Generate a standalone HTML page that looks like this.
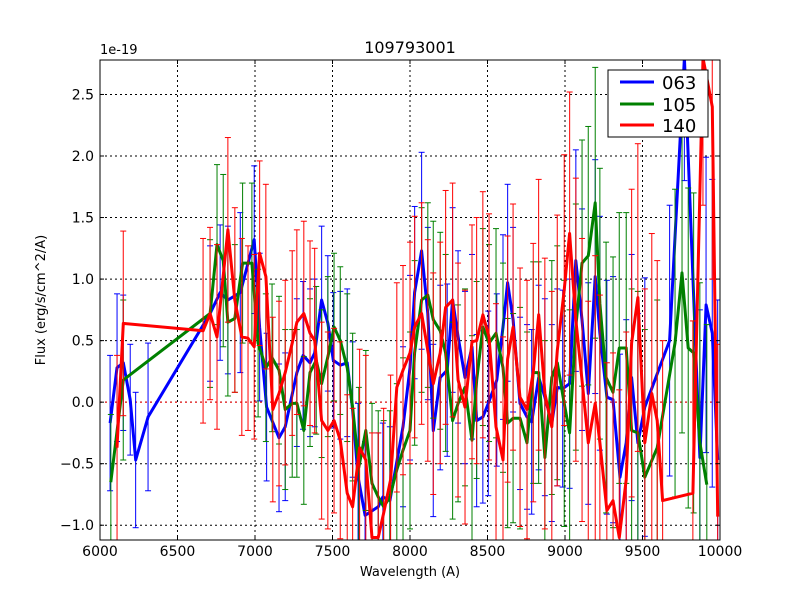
<!DOCTYPE html>
<html><head><meta charset="utf-8"><style>
html,body{margin:0;padding:0;background:#fff;overflow:hidden;width:800px;height:600px;}
svg{display:block;}
svg text{font-family:"DejaVu Sans","Liberation Sans",sans-serif;}
</style></head><body>
<svg id="chart" width="800" height="600" xmlns="http://www.w3.org/2000/svg">
<rect x="0" y="0" width="800" height="600" fill="#fff"/>
<defs><clipPath id="clip"><rect x="100" y="60" width="620" height="480"/></clipPath></defs>
<g id="grid"></g>
<g id="plot" clip-path="url(#clip)"></g>
<rect x="100" y="60" width="620" height="480" fill="none" stroke="#000" stroke-width="1"/>
<g id="ticks"></g>
<text x="410" y="53" font-size="16" text-anchor="middle">109793001</text>
<text x="100" y="54" font-size="13">1e-19</text>
<text x="410" y="576" font-size="13" text-anchor="middle">Wavelength (A)</text>
<text x="45" y="300" font-size="13" text-anchor="middle" transform="rotate(-90 45 300)">Flux (erg/s/cm^2/A)</text>
<g>
<rect x="608" y="70" width="100" height="67" fill="#fff" stroke="#000" stroke-width="1"/>
<line x1="620" y1="82" x2="654" y2="82" stroke="#0000ff" stroke-width="3"/>
<text x="662" y="89" font-size="18">063</text>
<line x1="620" y1="104" x2="654" y2="104" stroke="#008000" stroke-width="3"/>
<text x="662" y="111" font-size="18">105</text>
<line x1="620" y1="125" x2="654" y2="125" stroke="#ff0000" stroke-width="3"/>
<text x="662" y="132" font-size="18">140</text>
</g>
</svg>
<script>
const xTicks=[6000,6500,7000,7500,8000,8500,9000,9500,10000];
const yTicks=[-1.0,-0.5,0.0,0.5,1.0,1.5,2.0,2.5];
const yTickLabels=["−1.0","−0.5","0.0","0.5","1.0","1.5","2.0","2.5"];
const wl063=[6065,6110,6150,6195,6230,6310,6710,6775,6825,6905,6995,7030,7075,7155,7195,7270,7310,7355,7385,7430,7470,7505,7550,7595,7630,7665,7710,7795,7825,7870,7955,8000,8030,8075,8115,8150,8195,8240,8275,8310,8355,8400,8430,8470,8505,8560,8600,8630,8665,8710,8755,8785,8830,8870,8915,8950,8985,9030,9070,9110,9150,9195,9225,9270,9310,9355,9395,9430,9470,9515,9675,9770,9870,9910,9950,9985];
const flux063=[-0.17,0.28,0.32,0.02,-0.47,-0.12,0.72,0.89,0.83,0.89,1.32,0.61,-0.04,-0.29,-0.2,0.24,0.38,0.32,0.4,0.83,0.64,0.34,0.3,0.32,-0.06,-0.61,-0.92,-0.85,-0.77,-0.8,-0.2,0.28,0.89,1.23,0.72,-0.23,0.2,0.26,0.83,0.53,0.2,0.45,-0.15,-0.12,-0.01,0.18,0.61,0.97,0.67,-0.01,-0.12,-0.16,0.2,0.04,-0.17,0.12,0.11,0.15,1.15,0.67,0.07,1.02,0.56,0.04,0.02,-0.61,-0.33,0.2,-0.33,-0.04,0.5,3.0,-0.45,0.79,0.56,-0.47];
const err063=[0.55,0.6,0.55,0.45,0.55,0.6,0.55,0.55,0.6,0.65,0.6,0.6,0.6,0.6,0.6,0.6,0.6,0.6,0.6,0.6,0.55,0.55,0.6,0.6,0.55,0.6,0.6,0.6,0.6,0.6,0.65,0.75,0.7,0.8,0.7,0.7,0.75,0.7,0.75,0.7,0.7,0.75,0.7,0.7,0.75,0.7,0.75,0.8,0.75,0.7,0.75,0.75,0.75,0.8,0.8,0.8,0.8,0.85,0.9,0.9,0.9,0.95,0.95,0.95,1.0,1.0,1.0,1.0,1.05,1.05,1.1,1.2,1.2,1.2,1.25,1.3];
const wl105=[6070,6150,6710,6755,6795,6825,6870,6920,6980,7020,7070,7110,7155,7195,7240,7270,7315,7355,7395,7430,7470,7510,7550,7595,7630,7670,7715,7755,7795,7830,7870,7915,7955,8000,8030,8075,8115,8150,8195,8230,8275,8310,8355,8400,8430,8470,8510,8555,8600,8630,8665,8710,8755,8795,8830,8870,8915,8950,8995,9030,9070,9110,9150,9195,9225,9265,9310,9350,9395,9430,9470,9515,9595,9710,9755,9795,9830,9870,9915];
const flux105=[-0.65,0.18,0.72,1.28,1.15,0.65,0.68,1.13,1.13,0.48,0.28,0.36,0.26,-0.06,-0.01,-0.01,-0.23,0.24,0.34,0.15,0.37,0.61,0.5,0.28,-0.04,-0.53,-0.23,-0.66,-0.77,-0.85,-0.77,-0.55,-0.39,-0.23,0.4,0.83,0.87,0.67,0.58,0.4,-0.15,-0.01,0.12,-0.31,0.18,0.61,0.48,0.56,0.28,-0.17,-0.13,-0.13,-0.33,0.24,0.24,-0.45,0.2,0.32,-0.01,-0.25,0.61,1.13,1.19,1.62,0.8,0.2,0.08,0.44,0.44,-0.23,-0.25,-0.61,-0.37,0.48,1.05,0.44,0.4,-0.33,-0.67];
const err105=[0.55,0.65,0.6,0.65,0.7,0.6,0.6,0.65,0.65,0.6,0.6,0.6,0.6,0.65,0.6,0.6,0.6,0.6,0.6,0.6,0.65,0.6,0.6,0.6,0.6,0.65,0.65,0.65,0.7,0.7,0.7,0.7,0.75,0.8,0.75,0.75,0.75,0.8,0.8,0.8,0.8,0.8,0.8,0.85,0.8,0.8,0.8,0.85,0.85,0.85,0.85,0.9,0.9,0.9,0.9,0.95,0.95,0.95,1.0,1.0,1.0,1.0,1.05,1.1,1.1,1.1,1.1,1.1,1.1,1.15,1.15,1.2,1.2,1.25,1.3,1.3,1.3,1.3,1.3];
const wl140=[6110,6150,6665,6710,6755,6825,6870,6915,6955,6995,7030,7070,7115,7155,7195,7240,7270,7315,7355,7385,7430,7470,7510,7550,7595,7630,7675,7715,7755,7795,7830,7875,7915,7955,8000,8030,8075,8115,8150,8195,8230,8275,8310,8355,8400,8430,8470,8510,8555,8600,8630,8665,8710,8755,8795,8830,8870,8915,8950,8995,9030,9070,9110,9150,9195,9225,9270,9310,9350,9395,9430,9470,9515,9560,9595,9630,9825,9890,9950,9985];
const flux140=[-0.37,0.64,0.58,0.72,0.53,1.4,0.83,0.53,0.52,0.45,1.21,1.02,-0.06,0.07,0.24,0.48,0.65,0.72,0.56,0.5,-0.15,-0.23,-0.15,-0.31,-0.74,-0.85,-0.37,-0.47,-1.1,-1.1,-0.9,-0.63,0.12,0.26,0.4,0.61,0.72,0.42,0.15,0.4,0.77,0.83,0.18,-0.04,0.49,0.5,0.71,0.53,-0.2,-0.47,0.35,0.61,0.04,-0.06,0.24,0.71,0.07,-0.2,0.42,0.91,1.37,0.67,0.18,-0.33,-0.01,-0.33,-0.88,-0.8,-1.1,-0.63,0.48,0.85,-0.33,0.07,-0.15,-0.8,-0.74,3.0,2.4,-0.93];
const err140=[0.75,0.75,0.75,0.7,0.75,0.75,0.75,0.8,0.75,0.75,0.75,0.75,0.75,0.75,0.75,0.75,0.75,0.75,0.75,0.75,0.8,0.8,0.75,0.8,0.8,0.8,0.8,0.85,0.85,0.85,0.85,0.85,0.85,0.85,0.9,0.9,0.9,0.9,0.9,0.9,0.95,0.95,0.95,0.95,0.95,1.0,1.0,1.0,1.0,1.0,1.0,1.0,1.05,1.05,1.05,1.1,1.1,1.1,1.1,1.1,1.15,1.15,1.15,1.15,1.2,1.2,1.2,1.2,1.2,1.2,1.25,1.25,1.25,1.3,1.3,1.3,1.4,1.4,1.4,1.4];

const NS="http://www.w3.org/2000/svg";
const X0=100,X1=720,Y0=60,Y1=540,XMIN=6000,XMAX=10000,YMIN=-1.12,YMAX=2.78;
function xs(v){return X0+(v-XMIN)/(XMAX-XMIN)*(X1-X0);}
function ys(v){return Y1-(v-YMIN)/(YMAX-YMIN)*(Y1-Y0);}
function clampY(p){return Math.max(Y0-2,Math.min(Y1+2,p));}
function mk(tag,attrs,parent){const e=document.createElementNS(NS,tag);for(const k in attrs)e.setAttribute(k,attrs[k]);parent.appendChild(e);return e;}
const grid=document.getElementById('grid'),plot=document.getElementById('plot'),ticks=document.getElementById('ticks');
xTicks.forEach((t,i)=>{
  const x=xs(t);
  if(i>0&&i<xTicks.length-1){const g=mk('line',{x1:x,y1:Y0,x2:x,y2:Y1,stroke:'#000','stroke-dasharray':'2,3','stroke-width':1},grid);
  
  }
  const a=mk('line',{x1:x,y1:Y1,x2:x,y2:Y1-4,stroke:'#000'},ticks);
  
  
  const b=mk('line',{x1:x,y1:Y0,x2:x,y2:Y0+4,stroke:'#000'},ticks);
  
  
  const tx=mk('text',{x:x,y:Y1+16,'font-size':14,'text-anchor':'middle'},ticks);
  tx.textContent=String(t);
  
  
});
yTicks.forEach((t,i)=>{
  const y=ys(t);
  const g=mk('line',{x1:X0,y1:y,x2:X1,y2:y,stroke:'#000','stroke-dasharray':'2,3','stroke-width':1},grid);
  
  
  const a=mk('line',{x1:X0,y1:y,x2:X0+4,y2:y,stroke:'#000'},ticks);
  
  
  const b=mk('line',{x1:X1,y1:y,x2:X1-4,y2:y,stroke:'#000'},ticks);
  
  
  const tx=mk('text',{x:X0-6,y:y+5,'font-size':14,'text-anchor':'end'},ticks);
  tx.textContent=yTickLabels[i];
  
  
});
const zl=mk('line',{x1:X0,y1:ys(0),x2:X1,y2:ys(0),stroke:'#ff0000','stroke-dasharray':'2,3','stroke-width':1},plot);


function series(wl,fl,er,color,name){
  const g=mk('g',{},plot);
  
  
  wl.forEach((w,i)=>{
    const e=er[i]!==undefined?er[i]:0.8;const x=xs(w);
    const r1=ys(fl[i]-e),r2=ys(fl[i]+e);
    const y1=clampY(r1),y2=clampY(r2);
    const l=mk('line',{x1:x,y1:y1,x2:x,y2:y2,stroke:color,'stroke-width':1},g);
    
    
    if(r1<=Y1){const c1=mk('line',{x1:x-3,y1:y1,x2:x+3,y2:y1,stroke:color,'stroke-width':1},g);
    
    }
    if(r2>=Y0){const c2=mk('line',{x1:x-3,y1:y2,x2:x+3,y2:y2,stroke:color,'stroke-width':1},g);
    
    }
  });
  const pts=wl.map((w,i)=>xs(w).toFixed(1)+','+clampY(ys(fl[i])).toFixed(1)).join(' ');
  const p=mk('polyline',{points:pts,fill:'none',stroke:color,'stroke-width':3,'stroke-linejoin':'round'},g);
  
  
}
series(wl063,flux063,err063,'#0000ff','063');
series(wl105,flux105,err105,'#008000','105');
series(wl140,flux140,err140,'#ff0000','140');
</script>
</body></html>
